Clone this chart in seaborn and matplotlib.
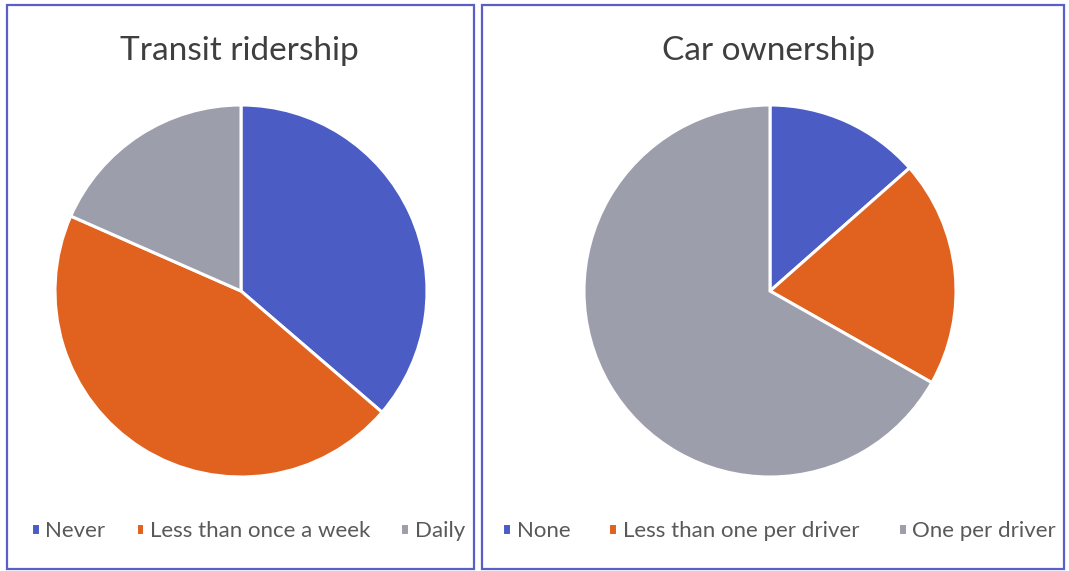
import matplotlib
matplotlib.use("Agg")
import matplotlib.pyplot as plt
from matplotlib.patches import Rectangle
import seaborn as sns

# Survey shares (percent of respondents)
transit_labels = ["Never", "Less than once a week", "Daily"]
transit_values = [36.3, 45.3, 18.4]

car_labels = ["None", "Less than one per driver", "One per driver"]
car_values = [13.5, 19.7, 66.8]

titles = ["Transit ridership", "Car ownership"]
slice_colors = ["#4B5DC4", "#E1611E", "#9D9EAB"]

sns.set_theme(style="white")
plt.rcParams["font.family"] = ["Lato", "DejaVu Sans"]

W, H = 1069, 571
fig = plt.figure(figsize=(W / 100, H / 100), dpi=100)
fig.patch.set_facecolor("white")


def px_rect(x0, y0_top, w, h):
    """Figure-fraction rectangle from pixel coordinates measured from the top-left."""
    return [x0 / W, (H - y0_top - h) / H, w / W, h / H]


# Panel frames
border = "#5A5FC8"
for x0, x1 in [(7, 474), (482, 1064)]:
    fig.patches.append(Rectangle((x0 / W, 2 / H), (x1 - x0) / W, (566 - 2) / H,
                                 transform=fig.transFigure, fill=False,
                                 edgecolor=border, linewidth=1.6))

radius_px = 186
panels = [
    (241, 291, 239, 248, 1.35, transit_labels, transit_values, titles[0]),
    (770, 291, 768, 779, 1.72, car_labels, car_values, titles[1]),
]

for cx, cy, tx, lx, colsp, labels, values, title in panels:
    ax = fig.add_axes(px_rect(cx - radius_px, cy - radius_px, 2 * radius_px, 2 * radius_px))
    wedges, _ = ax.pie(values, colors=slice_colors, startangle=90, counterclock=False,
                       radius=1.0,
                       wedgeprops=dict(edgecolor="white", linewidth=2.2))
    ax.set_xlim(-1, 1)
    ax.set_ylim(-1, 1)
    ax.set_aspect("equal")
    ax.axis("off")

    fig.text(tx / W, (H - 51) / H, title, ha="center", va="center",
             fontsize=24, color="#3F3F3F")

    fig.legend(wedges, labels, loc="center", ncol=3,
               bbox_to_anchor=(lx / W, 40 / H), bbox_transform=fig.transFigure,
               frameon=False, fontsize=16, labelcolor="#595959",
               handlelength=0.4, handleheight=0.4, handletextpad=0.25,
               columnspacing=colsp, borderaxespad=0, borderpad=0)

fig.savefig("out.png", dpi=100, facecolor="white")
